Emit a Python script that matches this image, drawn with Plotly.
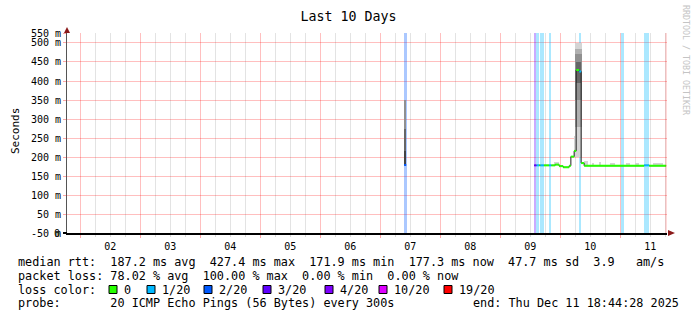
import pandas as pd
import plotly.graph_objects as go

# ------------------------------------------------------------------ data
title = "Last 10 Days"
t_start = "2025-12-01 18:44:28"
t_end = "2025-12-11 18:44:28"

# median rtt (ms) per consolidated step, with loss class (pings lost of 20)
med_start = ["2025-12-07 09:36",
             "2025-12-09 13:36", "2025-12-09 14:31", "2025-12-09 15:36", "2025-12-09 16:07",
             "2025-12-09 17:29", "2025-12-09 19:36", "2025-12-09 20:24", "2025-12-09 22:00",
             "2025-12-09 23:36", "2025-12-10 01:12", "2025-12-10 03:36", "2025-12-10 04:17",
             "2025-12-10 05:36", "2025-12-10 06:24", "2025-12-10 07:36", "2025-12-10 08:24",
             "2025-12-10 09:36", "2025-12-11 09:36", "2025-12-11 11:36"]
med_end = ["2025-12-07 10:24",
           "2025-12-09 14:31", "2025-12-09 15:36", "2025-12-09 16:07", "2025-12-09 17:29",
           "2025-12-09 19:36", "2025-12-09 20:24", "2025-12-09 22:00", "2025-12-09 23:36",
           "2025-12-10 01:12", "2025-12-10 03:36", "2025-12-10 04:17", "2025-12-10 05:36",
           "2025-12-10 06:24", "2025-12-10 07:36", "2025-12-10 08:24", "2025-12-10 09:36",
           "2025-12-11 09:36", "2025-12-11 11:36", "2025-12-11 18:24"]
med_value = [179,
             178, 178, 178, 178, 178, 178, 178, 180,
             176, 173, 177, 201, 216, 429, 425, 184,
             177, 178, 177]
med_loss = [2,
            3, 1, 0, 1, 0, 1, 0, 0,
            0, 0, 0, 0, 0, 0, 1, 0,
            0, 1, 0]

# loss background periods
lossbg_start = ["2025-12-07 09:24", "2025-12-09 13:36", "2025-12-09 14:31", "2025-12-09 16:07",
                "2025-12-09 19:36", "2025-12-10 07:36", "2025-12-11 00:17", "2025-12-11 09:36"]
lossbg_end = ["2025-12-07 10:36", "2025-12-09 14:31", "2025-12-09 15:36", "2025-12-09 17:29",
              "2025-12-09 20:24", "2025-12-10 08:24", "2025-12-11 01:36", "2025-12-11 11:36"]
lossbg_class = [2, 3, 1, 1, 1, 1, 1, 1]

# smoke (spread of the 20 pings), ms, shade level 0 (light) .. 4 (dark)
smoke_start = ["2025-12-07 09:36", "2025-12-07 09:36", "2025-12-07 09:36",
               "2025-12-10 06:00", "2025-12-10 06:00", "2025-12-10 06:00", "2025-12-10 06:24",
               "2025-12-10 05:36",
               "2025-12-09 21:36", "2025-12-10 09:36", "2025-12-10 12:48", "2025-12-10 15:36",
               "2025-12-10 20:00", "2025-12-11 02:24", "2025-12-11 06:00", "2025-12-11 13:00"]
smoke_end = ["2025-12-07 10:24", "2025-12-07 10:24", "2025-12-07 10:24",
             "2025-12-10 08:48", "2025-12-10 08:48", "2025-12-10 08:48", "2025-12-10 08:24",
             "2025-12-10 06:24",
             "2025-12-09 23:36", "2025-12-10 11:12", "2025-12-10 13:36", "2025-12-10 16:24",
             "2025-12-10 22:00", "2025-12-11 04:00", "2025-12-11 07:36", "2025-12-11 17:00"]
smoke_lo = [179, 179, 179,
            200, 280, 350, 395,
            200,
            178, 177, 177, 177, 177, 177, 177, 177]
smoke_hi = [350, 275, 215,
            500, 485, 470, 450,
            255,
            187, 190, 185, 186, 184, 184, 185, 184]
smoke_shade = [2, 3, 4,
               0, 1, 2, 3,
               0,
               0, 0, 0, 0, 0, 0, 0, 0]

# y axis tick labels
y_tickvals = [0, 50, 100, 150, 200, 250, 300, 350, 400, 450, 500, 526.3]
y_ticktext = ["-50 m", "50 m", "100 m", "150 m", "200 m", "250 m", "300 m",
              "350 m", "400 m", "450 m", "500 m", "550 m"]

# statistics
rtt_avg, rtt_max, rtt_min, rtt_now, rtt_sd, rtt_ams = 187.2, 427.4, 171.9, 177.3, 47.7, 3.9
loss_avg, loss_max, loss_min, loss_now = 78.02, 100.00, 0.00, 0.00
probe_text = "20 ICMP Echo Pings (56 Bytes) every 300s"
end_text = "end: Thu Dec 11 18:44:28 2025"

loss_labels = ["0", "1/20", "2/20", "3/20", "4/20", "10/20", "19/20"]
loss_keys = [0, 1, 2, 3, 4, 10, 19]
loss_colors = ["#26ff00", "#00b8ff", "#0059ff", "#5e00ff", "#7e00ff", "#dd00ff", "#ff0000"]

# ------------------------------------------------------------------ styling
FONT = "DejaVu Sans Mono"
W_IMG, H_IMG = 697, 321
L, R, T, B = 67, 667, 33, 233
PW, PH = R - L, B - T
Y_TOP = y_tickvals[-1]
smoke_palette = ["#d4d4d4", "#b0b0b0", "#909090", "#666666", "#444444"]
color_of = dict(zip(loss_keys, loss_colors))


def hex_rgba(h, a):
    h = h.lstrip("#")
    return "rgba(%d,%d,%d,%.2f)" % (int(h[0:2], 16), int(h[2:4], 16), int(h[4:6], 16), a)


def px(x):
    return (x - L) / PW


def py(y):
    return (B - y) / PH


def dur_ms(a, b):
    return [(pd.Timestamp(e) - pd.Timestamp(s)).total_seconds() * 1000 for s, e in zip(a, b)]


fig = go.Figure()

# loss background
for k in sorted(set(lossbg_class)):
    idx = [i for i, c in enumerate(lossbg_class) if c == k]
    s = [lossbg_start[i] for i in idx]
    e = [lossbg_end[i] for i in idx]
    fig.add_trace(go.Bar(x=s, y=[Y_TOP] * len(s), base=0, width=dur_ms(s, e), offset=0,
                         marker=dict(color=hex_rgba(color_of[k], 0.33), line=dict(width=0)),
                         hoverinfo="skip", showlegend=False))

# smoke
for lvl in range(len(smoke_palette)):
    idx = [i for i, c in enumerate(smoke_shade) if c == lvl]
    if not idx:
        continue
    s = [smoke_start[i] for i in idx]
    e = [smoke_end[i] for i in idx]
    fig.add_trace(go.Bar(x=s, y=[smoke_hi[i] - smoke_lo[i] for i in idx],
                         base=[smoke_lo[i] for i in idx], width=dur_ms(s, e), offset=0,
                         marker=dict(color=smoke_palette[lvl], line=dict(width=0)),
                         hoverinfo="skip", showlegend=False))

# median connector (black steps)
cx, cy = [], []
for i in range(len(med_start)):
    if i > 0 and pd.Timestamp(med_start[i]) - pd.Timestamp(med_end[i - 1]) > pd.Timedelta(hours=6):
        cx += [med_end[i - 1], None]
        cy += [med_value[i - 1], None]
    cx.append(med_start[i])
    cy.append(med_value[i])
cx.append(med_end[-1])
cy.append(med_value[-1])
fig.add_trace(go.Scatter(x=cx, y=cy, mode="lines", line=dict(color="#202020", width=1, shape="hv"),
                         hoverinfo="skip", showlegend=False))

# median coloured by loss
for k in loss_keys:
    idx = [i for i, c in enumerate(med_loss) if c == k]
    if not idx:
        continue
    xs, ys = [], []
    for i in idx:
        xs += [med_start[i], med_end[i], None]
        ys += [med_value[i], med_value[i], None]
    fig.add_trace(go.Scatter(x=xs, y=ys, mode="lines", line=dict(color=color_of[k], width=2),
                             hoverinfo="skip", showlegend=False))

# ------------------------------------------------------------------ layout
nb = "\u00a0"


def mono(s):
    return s.replace(" ", nb)


line1 = "median rtt:  %.1f ms avg  %.1f ms max  %.1f ms min  %.1f ms now  %.1f ms sd  %.1f   am/s" % (
    rtt_avg, rtt_max, rtt_min, rtt_now, rtt_sd, rtt_ams)
line2 = "packet loss: %.2f %% avg  %.2f %% max  %.2f %% min  %.2f %% now" % (
    loss_avg, loss_max, loss_min, loss_now)
line3 = "loss color:"
line4 = "probe:       " + probe_text

TXT = 11.8
annotations = []
for text, yy in [(line1, 261.5), (line2, 275.5), (line3, 289.5), (line4, 303)]:
    annotations.append(dict(text=mono(text), x=px(16), y=py(yy), xref="paper", yref="paper",
                            xanchor="left", yanchor="middle", showarrow=False,
                            font=dict(family=FONT, size=TXT, color="#000")))
annotations.append(dict(text=mono(end_text), x=px(681), y=py(303), xref="paper", yref="paper",
                        xanchor="right", yanchor="middle", showarrow=False,
                        font=dict(family=FONT, size=TXT, color="#000")))

legend_sq_x = [109, 147, 204, 263, 325, 379, 444]
shapes = []
for lbl, col, sx in zip(loss_labels, loss_colors, legend_sq_x):
    shapes.append(dict(type="rect", xref="paper", yref="paper", x0=px(sx), x1=px(sx + 8),
                       y0=py(293.5), y1=py(285.5), fillcolor=col, line=dict(color="#000", width=1)))
    annotations.append(dict(text=lbl, x=px(sx + 13), y=py(289.5), xref="paper", yref="paper",
                            xanchor="left", yanchor="middle", showarrow=False,
                            font=dict(family=FONT, size=TXT, color="#000")))

# y title
annotations.append(dict(text="Seconds", x=px(15), y=py(131), xref="paper", yref="paper",
                        textangle=-90, showarrow=False, xanchor="center", yanchor="middle",
                        font=dict(family=FONT, size=11, color="#000")))
# overlapping zero label
annotations.append(dict(text="0", x=px(61.5), y=py(233), xref="paper", yref="paper",
                        xanchor="right", yanchor="middle", showarrow=False,
                        font=dict(family=FONT, size=10, color="#000")))
# credit
annotations.append(dict(text="RRDTOOL / TOBI OETIKER", x=px(686), y=py(60), xref="paper", yref="paper",
                        textangle=90, showarrow=False, xanchor="center", yanchor="middle",
                        font=dict(family=FONT, size=8.3, color="#c4c4c4")))

# right border line, axis stub and arrows
shapes.append(dict(type="line", xref="paper", yref="paper", x0=px(666), x1=px(666), y0=0, y1=1,
                   line=dict(color="rgba(255,0,0,0.3)", width=1)))
shapes.append(dict(type="line", xref="paper", yref="paper", x0=px(63), x1=px(67), y0=0, y1=0,
                   line=dict(color="#000", width=2)))
shapes.append(dict(type="path", xref="paper", yref="paper",
                   path="M %f %f L %f %f L %f %f Z" % (px(67), py(27), px(64), py(33), px(70), py(33)),
                   fillcolor="#8b1a1a", line=dict(width=0)))
shapes.append(dict(type="path", xref="paper", yref="paper",
                   path="M %f %f L %f %f L %f %f Z" % (px(675), py(233), px(668), py(230), px(668), py(236)),
                   fillcolor="#8b1a1a", line=dict(width=0)))

fig.update_layout(
    width=W_IMG, height=H_IMG, autosize=False,
    margin=dict(l=L, r=W_IMG - R, t=T, b=H_IMG - B, pad=0),
    paper_bgcolor="#ffffff", plot_bgcolor="#ffffff",
    barmode="overlay", bargap=0, showlegend=False,
    title=dict(text=title, x=0.5, xanchor="center", xref="container", y=1 - 16 / H_IMG,
               yanchor="middle", yref="container", font=dict(family=FONT, size=13.3, color="#000")),
    annotations=annotations, shapes=shapes,
    xaxis=dict(type="date", range=[t_start, t_end], tick0="2025-12-02", dtick=86400000,
               tickformat="%d", ticklabelmode="period", showgrid=True,
               gridcolor="rgba(255,0,0,0.25)", gridwidth=1,
               ticks="outside", ticklen=3, tickcolor="rgba(255,0,0,0.35)",
               minor=dict(dtick=21600000, tick0="2025-12-02", showgrid=True,
                          gridcolor="rgba(0,0,0,0.11)", ticks="outside", ticklen=2,
                          tickcolor="rgba(0,0,0,0.15)"),
               showline=True, linecolor="#000", linewidth=2, zeroline=False,
               tickfont=dict(family=FONT, size=10, color="#000"), fixedrange=True),
    yaxis=dict(range=[0, Y_TOP], tickvals=y_tickvals, ticktext=y_ticktext, showgrid=True,
               gridcolor="rgba(255,0,0,0.25)", gridwidth=1, ticks="outside", ticklen=3,
               tickcolor="rgba(255,0,0,0.35)", showline=True, linecolor="#555", linewidth=1,
               zeroline=False, tickfont=dict(family=FONT, size=10, color="#000"), fixedrange=True),
)

fig.write_html("out.html")
